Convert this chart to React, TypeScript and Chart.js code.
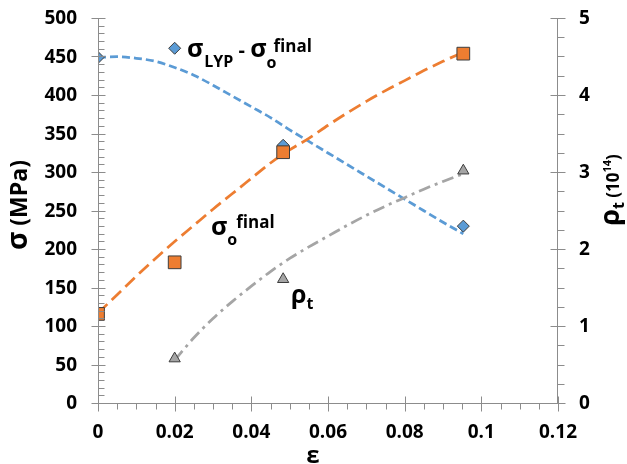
import React, { useEffect, useRef } from 'react';
import { Chart, registerables } from 'chart.js';

Chart.register(...registerables);

// ---- data ----
const strain = [0, 0.02, 0.0483, 0.0953];
const lypMinusFinal = [450, 462, 336, 231];
const sigmaFinal = [117, 184, 327, 455];

const rhoStrain = [0.02, 0.0483, 0.0953];
const rhoValues = [0.59, 1.62, 3.03];

const trendStrain = [0, 0.005, 0.01, 0.015, 0.02, 0.025, 0.03, 0.035, 0.04, 0.045, 0.05, 0.055, 0.06, 0.065, 0.07, 0.075, 0.08, 0.085, 0.09, 0.0953];
const lypTrend = [450, 451, 449, 445, 437, 427, 414, 400, 386, 372, 356, 341, 326, 311, 296, 281, 266, 251, 236, 221];
const finalTrend = [118, 142, 166, 189, 211, 232, 253, 273, 293, 313, 330, 345, 362, 378, 393, 407, 420, 433, 445, 457];

const rhoTrendStrain = [0.02, 0.025, 0.03, 0.035, 0.04, 0.045, 0.05, 0.055, 0.06, 0.065, 0.07, 0.075, 0.08, 0.085, 0.09, 0.0953];
const rhoTrend = [0.57, 0.86, 1.11, 1.33, 1.53, 1.72, 1.89, 2.04, 2.18, 2.32, 2.45, 2.57, 2.68, 2.79, 2.89, 2.99];

const xMin = 0, xMax = 0.12, xStep = 0.02, xMinor = 0.005;
const yMin = 0, yMax = 500, yStep = 50, yMinor = 10;
const y1Min = 0, y1Max = 5, y1Step = 1, y1Minor = 0.25;

const BLUE = '#5B9BD5';
const ORANGE = '#ED7D31';
const GRAY = '#A5A5A5';
const EDGE = '#3c3c3c';
const AXIS = '#8c8c8c';
const FONT = '"Open Sans", "DejaVu Sans", sans-serif';

const pts = (xs: number[], ys: number[]) => xs.map((x, i) => ({ x, y: ys[i] }));

type Seg = { t: string; size: number; dy?: number; dx?: number };

function drawRich(ctx: CanvasRenderingContext2D, segs: Seg[], x: number, y: number, align: 'left' | 'center', rot = 0) {
  ctx.save();
  ctx.translate(x, y);
  ctx.rotate(rot);
  ctx.textBaseline = 'alphabetic';
  ctx.textAlign = 'left';
  ctx.fillStyle = '#000';
  let total = 0;
  for (const s of segs) {
    ctx.font = `bold ${s.size}px ${FONT}`;
    total += ctx.measureText(s.t).width + (s.dx || 0);
  }
  let cx = align === 'center' ? -total / 2 : 0;
  for (const s of segs) {
    ctx.font = `bold ${s.size}px ${FONT}`;
    cx += s.dx || 0;
    ctx.fillText(s.t, cx, s.dy || 0);
    cx += ctx.measureText(s.t).width;
  }
  ctx.restore();
}

const decorPlugin = {
  id: 'decor',
  afterDraw(chart: any) {
    const ctx: CanvasRenderingContext2D = chart.ctx;
    const xs = chart.scales.x, ys = chart.scales.y, y1s = chart.scales.y1;
    const L = Math.round(xs.getPixelForValue(xMin)) + 0.5;
    const R = Math.round(xs.getPixelForValue(xMax)) - 0.5;
    const B = Math.round(ys.getPixelForValue(yMin)) - 0.5;
    const T = Math.round(ys.getPixelForValue(yMax));
    ctx.save();
    ctx.strokeStyle = AXIS;
    ctx.lineWidth = 1;
    ctx.beginPath();
    ctx.moveTo(L, T); ctx.lineTo(L, B);
    ctx.moveTo(R, T); ctx.lineTo(R, B);
    ctx.moveTo(L, B); ctx.lineTo(R, B);
    for (let v = yMin; v <= yMax + 1e-9; v += yMinor) {
      const p = Math.round(ys.getPixelForValue(v)) - 0.5;
      const major = Math.abs(v / yStep - Math.round(v / yStep)) < 1e-6;
      if (major) { ctx.moveTo(L - 7, p); ctx.lineTo(L + 7, p); }
      else { ctx.moveTo(L, p); ctx.lineTo(L + 6, p); }
    }
    for (let v = y1Min; v <= y1Max + 1e-9; v += y1Minor) {
      const p = Math.round(y1s.getPixelForValue(v)) - 0.5;
      const major = Math.abs(v / y1Step - Math.round(v / y1Step)) < 1e-6;
      if (major) { ctx.moveTo(R - 7, p); ctx.lineTo(R + 8, p); }
      else { ctx.moveTo(R, p); ctx.lineTo(R + 7, p); }
    }
    for (let v = xMin; v <= xMax + 1e-9; v += xMinor) {
      const p = Math.round(xs.getPixelForValue(v)) + 0.5;
      const major = Math.abs(v / xStep - Math.round(v / xStep)) < 1e-6;
      if (major) { ctx.moveTo(p, B - 7); ctx.lineTo(p, B + 8); }
      else { ctx.moveTo(p, B); ctx.lineTo(p, B + 6); }
    }
    ctx.stroke();
    ctx.restore();

    // axis titles
    drawRich(ctx, [{ t: 'σ', size: 28 }, { t: ' (MPa)', size: 23 }], 27, 205, 'center', -Math.PI / 2);
    drawRich(ctx, [
      { t: 'ρ', size: 27 },
      { t: 't', size: 16, dy: 5 },
      { t: ' (10', size: 17 },
      { t: '14', size: 11, dy: -8 },
      { t: ')', size: 17 },
    ], 619, 190, 'center', -Math.PI / 2);
    drawRich(ctx, [{ t: 'ε', size: 24 }], 313, 463, 'center');

    // annotations
    drawRich(ctx, [
      { t: 'σ', size: 25 },
      { t: 'LYP', size: 16, dy: 10, dx: 1 },
      { t: ' - ', size: 20 },
      { t: 'σ', size: 25 },
      { t: 'o', size: 16, dy: 11 },
      { t: 'final', size: 17, dy: -5, dx: -3 },
    ], 187, 57, 'left');
    drawRich(ctx, [
      { t: 'σ', size: 25 },
      { t: 'o', size: 16, dy: 10 },
      { t: 'final', size: 17, dy: -7, dx: -1 },
    ], 211, 235, 'left');
    drawRich(ctx, [
      { t: 'ρ', size: 25 },
      { t: 't', size: 16, dy: 6 },
    ], 291, 303, 'left');
  },
};

const noPadY = (w: number) => (s: any) => { s.width = w; s.paddingTop = 0; s.paddingBottom = 0; };

export default function App() {
  const ref = useRef<HTMLCanvasElement | null>(null);
  useEffect(() => {
    if (!ref.current) return;
    const tickFont = { family: FONT, size: 19, weight: 'bold' as const };
    const chart = new Chart(ref.current, {
      type: 'scatter',
      data: {
        datasets: [
          {
            label: 'lyp trend', data: pts(trendStrain, lypTrend), showLine: true, yAxisID: 'y',
            borderColor: BLUE, borderWidth: 2.75, borderDash: [8, 4], pointRadius: 0,
            cubicInterpolationMode: 'monotone', order: 10,
          },
          {
            label: 'final trend', data: pts(trendStrain, finalTrend), showLine: true, yAxisID: 'y',
            borderColor: ORANGE, borderWidth: 2.75, borderDash: [13, 6], pointRadius: 0,
            cubicInterpolationMode: 'monotone', order: 9,
          },
          {
            label: 'rho trend', data: pts(rhoTrendStrain, rhoTrend), showLine: true, yAxisID: 'y1',
            borderColor: GRAY, borderWidth: 2.75, borderDash: [12, 5, 3, 5], pointRadius: 0,
            cubicInterpolationMode: 'monotone', order: 8,
          },
          {
            label: 'σLYP - σo final', data: pts(strain, lypMinusFinal), yAxisID: 'y',
            pointStyle: 'rectRot', pointRadius: 6, backgroundColor: BLUE, borderColor: EDGE, borderWidth: 1, order: 3,
          },
          {
            label: 'σo final', data: pts(strain, sigmaFinal), yAxisID: 'y',
            pointStyle: 'rect', pointRadius: 9, backgroundColor: ORANGE, borderColor: EDGE, borderWidth: 1, order: 2,
          },
          {
            label: 'ρt', data: pts(rhoStrain, rhoValues), yAxisID: 'y1',
            pointStyle: 'triangle', pointRadius: 6.5, backgroundColor: GRAY, borderColor: EDGE, borderWidth: 1, order: 1,
          },
        ],
      },
      options: {
        animation: false,
        responsive: false,
        events: [],
        layout: { padding: { left: 0, right: 0, top: 19, bottom: 0 } },
        plugins: { legend: { display: false }, tooltip: { enabled: false } },
        scales: {
          x: {
            type: 'linear', min: xMin, max: xMax,
            grid: { display: false, drawTicks: false },
            border: { display: false },
            ticks: {
              stepSize: xStep, padding: 17, color: '#000', font: tickFont,
              callback: (v: any) => String(Number(Number(v).toFixed(3))),
            },
            afterFit: (s: any) => { s.height = 60; s.paddingLeft = 0; s.paddingRight = 0; },
          },
          y: {
            type: 'linear', position: 'left', min: yMin, max: yMax,
            grid: { display: false, drawTicks: false },
            border: { display: false },
            ticks: { stepSize: yStep, padding: 21, color: '#000', font: tickFont },
            afterFit: noPadY(98),
          },
          y1: {
            type: 'linear', position: 'right', min: y1Min, max: y1Max,
            grid: { display: false, drawTicks: false },
            border: { display: false },
            ticks: { stepSize: y1Step, padding: 21, color: '#000', font: tickFont },
            afterFit: noPadY(69),
          },
        },
      },
      plugins: [decorPlugin],
    });
    return () => chart.destroy();
  }, []);
  return (
    <div style={{ position: 'absolute', left: 0, top: 0, width: 627, height: 464, background: '#fff' }}>
      <canvas ref={ref} width={627} height={464} style={{ display: 'block' }} />
    </div>
  );
}
